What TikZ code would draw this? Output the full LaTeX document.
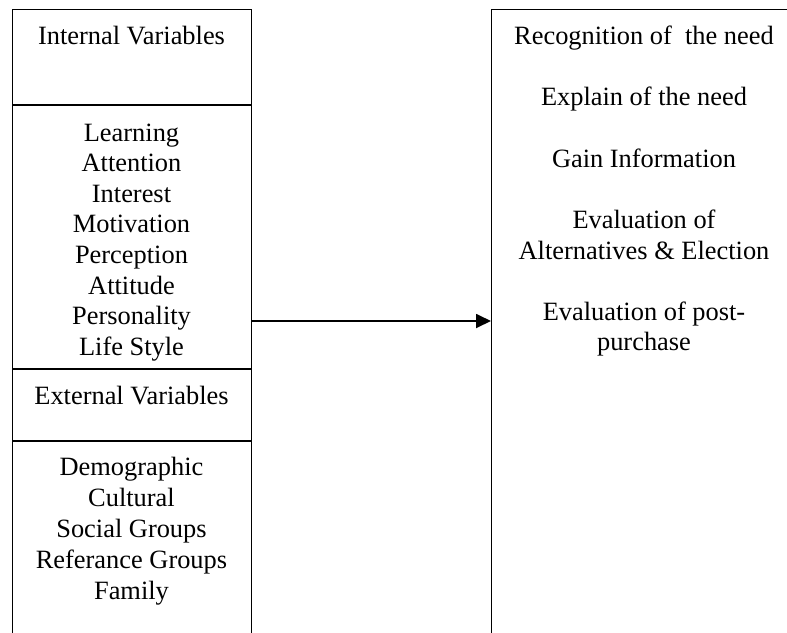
\documentclass[tikz,border=0pt]{standalone}
\usepackage{fontspec}
\setmainfont{Liberation Serif}
\usetikzlibrary{arrows.meta}
\begin{document}
\begin{tikzpicture}[x=0.5pt, y=-0.5pt,
	panel/.style={draw, line width=0.6pt, inner sep=0pt, anchor=north west},
	entry/.style={anchor=base, inner sep=0pt, font=\fontsize{13.2}{15.3}\selectfont},
	flow/.style={line width=0.9pt, -{Triangle[length=7.5pt, width=7pt]}}]
	\useasboundingbox (0,0) rectangle (787,632);
	% the two columns, both running past the bottom of the page
	\node[panel, minimum width=119.5pt, minimum height=345.5pt] (vars) at (12,9) {};
	\node[panel, minimum width=164.5pt, minimum height=345.5pt] (steps) at (491,9) {};
	\draw[line width=0.6pt] (vars.west |- 0,105) -- (vars.east |- 0,105);
	\draw[line width=0.6pt] (vars.west |- 0,369) -- (vars.east |- 0,369);
	\draw[line width=0.6pt] (vars.west |- 0,441) -- (vars.east |- 0,441);
	% left column
	\node[entry] (inthead) at (131.5,44) {Internal Variables};
	\node[entry] (learn) at (131.5,141) {Learning};
	\node[entry] (attent) at (131.5,171.6) {Attention};
	\node[entry] (interest) at (131.5,202.2) {Interest};
	\node[entry] (motiv) at (131.5,232.8) {Motivation};
	\node[entry] (percep) at (131.5,263.4) {Perception};
	\node[entry] (attit) at (131.5,294) {Attitude};
	\node[entry] (person) at (131.5,324.6) {Personality};
	\node[entry] (life) at (131.5,355.2) {Life Style};
	\node[entry] (exthead) at (131.5,404) {External Variables};
	\node[entry] (demo) at (131.5,475) {Demographic};
	\node[entry] (cult) at (131.5,506) {Cultural};
	\node[entry] (social) at (131.5,537) {Social Groups};
	\node[entry] (refer) at (131.5,568) {Referance Groups};
	\node[entry] (family) at (131.5,599) {Family};
	% right column
	\node[entry] (recog) at (644,44) {Recognition of \ the need};
	\node[entry] (explain) at (644,105) {Explain of the need};
	\node[entry] (gain) at (644,167) {Gain Information};
	\node[entry] (evalA) at (644,228) {Evaluation of};
	\node[entry] (evalB) at (644,259) {Alternatives \& Election};
	\node[entry] (postA) at (644,320) {Evaluation of post-};
	\node[entry] (postB) at (644,350) {purchase};
	% link between the columns
	\coordinate (link) at (0,321);
	\draw[flow] (vars.east |- link) -- (steps.west |- link);
\end{tikzpicture}
\end{document}
